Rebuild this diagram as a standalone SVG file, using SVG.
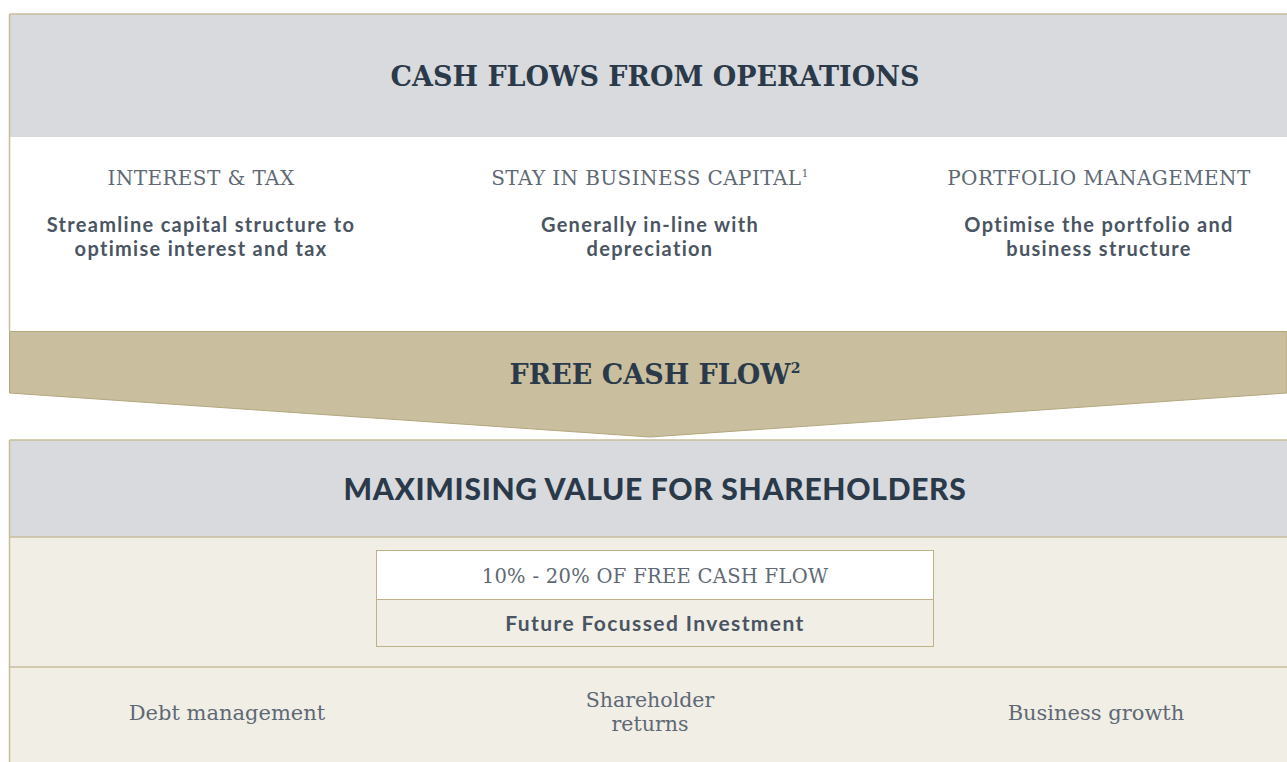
<svg xmlns="http://www.w3.org/2000/svg" width="1287" height="762" viewBox="0 0 1287 762">
  <style>
    .slab { font-family: "DejaVu Serif", "Liberation Serif", serif; font-weight: bold; fill: #2b3a4a; text-anchor: middle; }
    .heavy { font-family: "Lato", "Open Sans", sans-serif; font-weight: 900; fill: #2b3a4a; text-anchor: middle; }
    .light { font-family: "DejaVu Serif", "Liberation Serif", serif; fill: #5e6975; text-anchor: middle; }
    .bold { font-family: "Lato", "Open Sans", sans-serif; font-weight: 700; fill: #4a5563; text-anchor: middle; }
    .edge { stroke: #c8bc9c; stroke-width: 1.5; fill: none; }
  </style>
  <rect width="1287" height="762" fill="#ffffff"/>

  <!-- operations panel -->
  <g id="operations">
    <rect x="9.5" y="14" width="1290" height="123" fill="#d9dadd"/>
    <rect x="9.5" y="137" width="1290" height="194" fill="#ffffff"/>
    <line class="edge" x1="9.5" y1="14" x2="1287" y2="14"/>
    <line class="edge" x1="9.5" y1="14" x2="9.5" y2="331"/>
    <text class="slab" x="655" y="86" font-size="27">CASH FLOWS FROM OPERATIONS</text>

    <g id="interest-tax">
      <text class="light" x="201" y="185" font-size="20" letter-spacing="0.4">INTEREST &amp; TAX</text>
      <text class="bold" x="201" y="232" font-size="20" letter-spacing="1.3">Streamline capital structure to</text>
      <text class="bold" x="201" y="256" font-size="20" letter-spacing="1.3">optimise interest and tax</text>
    </g>
    <g id="stay-in-business">
      <text class="light" x="650" y="185" font-size="20" letter-spacing="0.4">STAY IN BUSINESS CAPITAL<tspan font-size="11" dy="-8">1</tspan></text>
      <text class="bold" x="650" y="232" font-size="20" letter-spacing="1.3">Generally in-line with</text>
      <text class="bold" x="650" y="256" font-size="20" letter-spacing="1.3">depreciation</text>
    </g>
    <g id="portfolio">
      <text class="light" x="1099" y="185" font-size="20" letter-spacing="0.4">PORTFOLIO MANAGEMENT</text>
      <text class="bold" x="1099" y="232" font-size="20" letter-spacing="1.3">Optimise the portfolio and</text>
      <text class="bold" x="1099" y="256" font-size="20" letter-spacing="1.3">business structure</text>
    </g>
  </g>

  <!-- free cash flow arrow band -->
  <g id="free-cash-flow">
    <path d="M9.5 331.5 H1287 V393 L650 437 L9.5 393 Z" fill="#c9be9e" stroke="#b3a77e" stroke-width="1"/>
    <text class="slab" x="655" y="384" font-size="27">FREE CASH FLOW<tspan font-size="14" dy="-11">2</tspan></text>
  </g>

  <!-- shareholder value panel -->
  <g id="shareholder-value">
    <rect x="9.5" y="440" width="1290" height="97" fill="#d9dadd"/>
    <rect x="9.5" y="537" width="1290" height="230" fill="#f1eee6"/>
    <line class="edge" x1="9.5" y1="440" x2="1287" y2="440"/>
    <line class="edge" x1="9.5" y1="537" x2="1287" y2="537"/>
    <line class="edge" x1="9.5" y1="440" x2="9.5" y2="762"/>
    <line class="edge" x1="9.5" y1="667" x2="1287" y2="667"/>
    <text class="heavy" x="655" y="500" font-size="30" letter-spacing="0.7">MAXIMISING VALUE FOR SHAREHOLDERS</text>
  </g>

  <g id="future-investment">
    <rect x="376.5" y="550.5" width="557" height="49" fill="#ffffff"/>
    <rect x="376.5" y="599.5" width="557" height="47" fill="#f1eee6"/>
    <rect x="376.5" y="550.5" width="557" height="96" fill="none" stroke="#bfb28a" stroke-width="1"/>
    <line x1="376.5" y1="599.5" x2="933.5" y2="599.5" stroke="#bfb28a" stroke-width="1"/>
    <text class="light" x="655" y="583" font-size="19.5" letter-spacing="0.3">10% - 20% OF FREE CASH FLOW</text>
    <text class="bold" x="655" y="631" font-size="21" font-weight="900" letter-spacing="1.4">Future Focussed Investment</text>
  </g>

  <g id="debt-management">
    <text class="light" x="227" y="720" font-size="21">Debt management</text>
  </g>
  <g id="shareholder-returns">
    <text class="light" x="650" y="707" font-size="20.5">Shareholder</text>
    <text class="light" x="650" y="731" font-size="20.5">returns</text>
  </g>
  <g id="business-growth">
    <text class="light" x="1096" y="720" font-size="21">Business growth</text>
  </g>

  <g id="connectors"></g>
</svg>
